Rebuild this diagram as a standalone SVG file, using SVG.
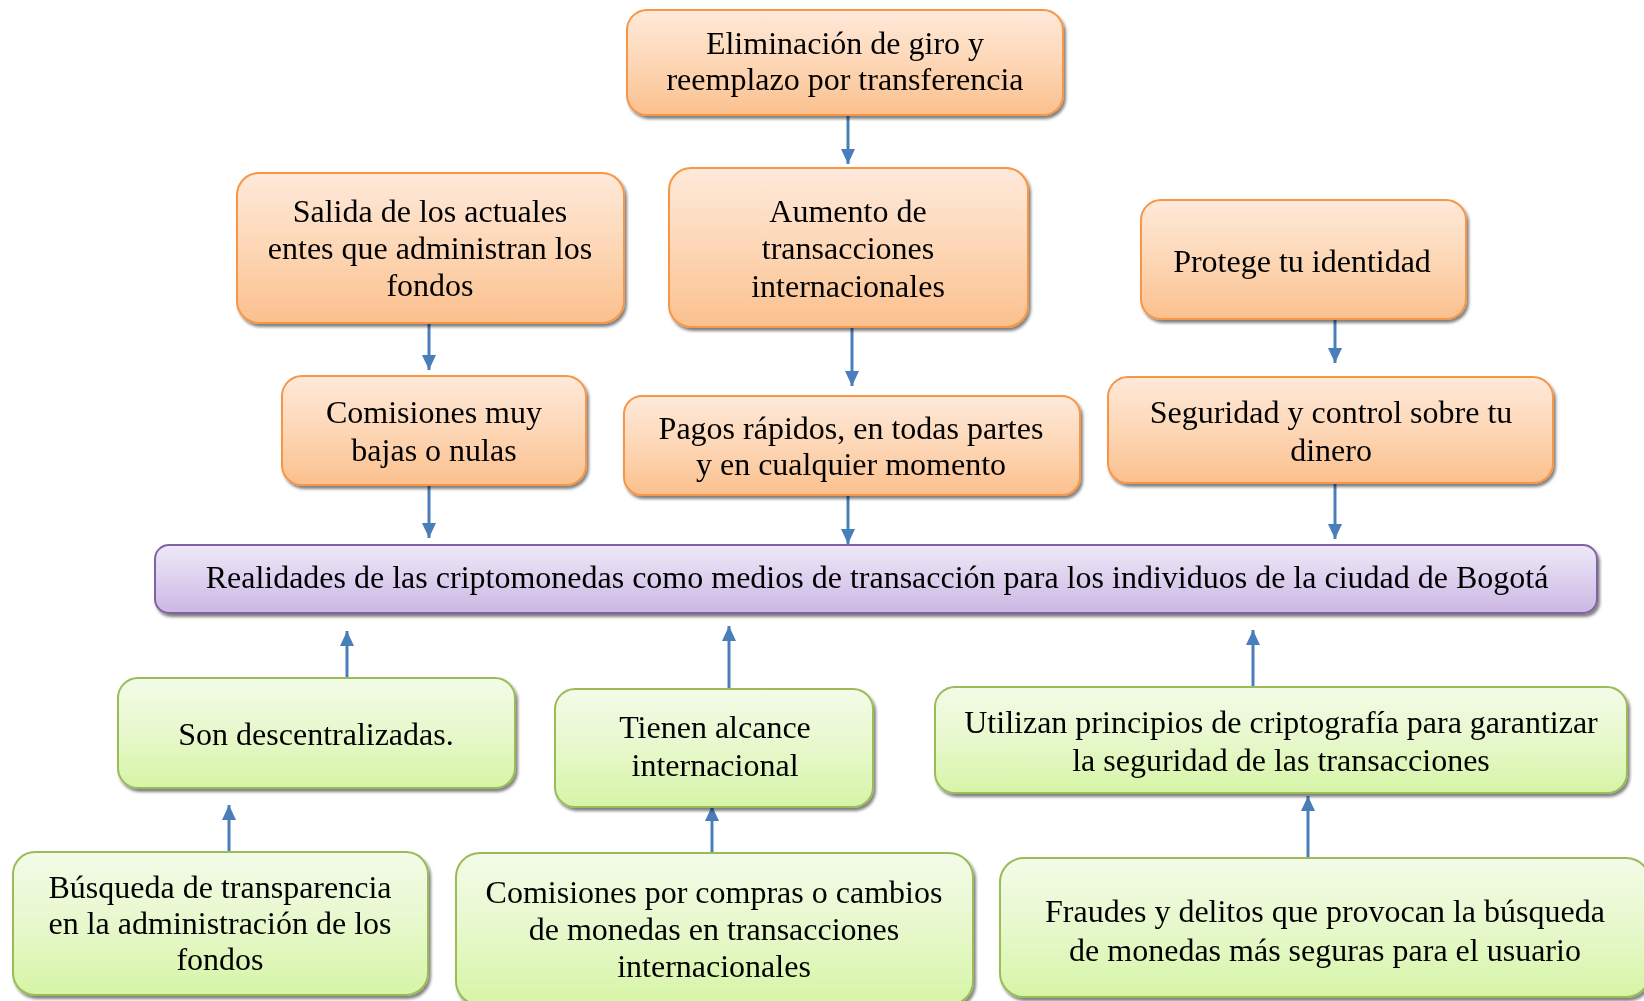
<svg xmlns="http://www.w3.org/2000/svg" width="1644" height="1001" viewBox="0 0 1644 1001">
<defs>
<linearGradient id="gOr" x1="0" y1="0" x2="0" y2="1"><stop offset="0" stop-color="#FEE9DA"/><stop offset="0.5" stop-color="#FDD7B6"/><stop offset="1" stop-color="#FBC08E"/></linearGradient>
<linearGradient id="gGr" x1="0" y1="0" x2="0" y2="1"><stop offset="0" stop-color="#F3FBE8"/><stop offset="0.5" stop-color="#E7F8CC"/><stop offset="1" stop-color="#D6F5A6"/></linearGradient>
<linearGradient id="gPu" x1="0" y1="0" x2="0" y2="1"><stop offset="0" stop-color="#EFE9F7"/><stop offset="0.5" stop-color="#DDD0EE"/><stop offset="1" stop-color="#CBB7E3"/></linearGradient>
<filter id="sh" x="-5%" y="-10%" width="110%" height="130%"><feGaussianBlur in="SourceAlpha" stdDeviation="1.5"/><feOffset dx="2" dy="3" result="o"/><feComponentTransfer in="o" result="s"><feFuncA type="linear" slope="0.5"/></feComponentTransfer><feMerge><feMergeNode in="s"/><feMergeNode in="SourceGraphic"/></feMerge></filter>
<marker id="ah" markerUnits="userSpaceOnUse" markerWidth="16" markerHeight="16" viewBox="0 0 16 16" refX="15" refY="8" orient="auto"><path d="M0,1 L15,8 L0,15 Z" fill="#4A7EBB"/></marker>
</defs>
<style>
.o{fill:url(#gOr);stroke:#F79646;stroke-width:2}
.g{fill:url(#gGr);stroke:#9BBB59;stroke-width:2}
.p{fill:url(#gPu);stroke:#8064A2;stroke-width:2}
text{font-family:"Liberation Serif","Times New Roman",serif;font-size:32px;fill:#000;text-anchor:middle}
.c line{stroke:#4A7EBB;stroke-width:3;marker-end:url(#ah)}
</style>
<rect width="1644" height="1001" fill="#FFFFFF"/>
<g id="connectors" class="c">
<line x1="848" y1="116" x2="848" y2="164"/>
<line x1="429" y1="324" x2="429" y2="370"/>
<line x1="852" y1="328" x2="852" y2="386"/>
<line x1="1335" y1="320" x2="1335" y2="363"/>
<line x1="429" y1="486" x2="429" y2="538"/>
<line x1="848" y1="496" x2="848" y2="544"/>
<line x1="1335" y1="484" x2="1335" y2="539"/>
<line x1="347" y1="677" x2="347" y2="631"/>
<line x1="729" y1="689" x2="729" y2="626"/>
<line x1="1253" y1="686" x2="1253" y2="630"/>
<line x1="229" y1="851" x2="229" y2="805"/>
<line x1="712" y1="852" x2="712" y2="806"/>
<line x1="1308" y1="857" x2="1308" y2="796"/>
</g>
<g id="n1" filter="url(#sh)"><rect class="o" x="627" y="10" width="436" height="105" rx="20"/><text x="845" y="54">Eliminación de giro y</text><text x="845" y="90">reemplazo por transferencia</text></g>
<g id="n2" filter="url(#sh)"><rect class="o" x="237" y="173" width="387" height="150" rx="22"/><text x="430" y="222">Salida de los actuales</text><text x="430" y="259">entes que administran los</text><text x="430" y="296">fondos</text></g>
<g id="n3" filter="url(#sh)"><rect class="o" x="669" y="168" width="359" height="159" rx="22"/><text x="848" y="222">Aumento de</text><text x="848" y="259">transacciones</text><text x="848" y="297">internacionales</text></g>
<g id="n4" filter="url(#sh)"><rect class="o" x="1141" y="200" width="325" height="119" rx="20"/><text x="1302" y="272">Protege tu identidad</text></g>
<g id="n5" filter="url(#sh)"><rect class="o" x="282" y="376" width="304" height="109" rx="20"/><text x="434" y="423">Comisiones muy</text><text x="434" y="461">bajas o nulas</text></g>
<g id="n6" filter="url(#sh)"><rect class="o" x="624" y="396" width="456" height="99" rx="18"/><text x="851" y="439">Pagos rápidos, en todas partes</text><text x="851" y="475">y en cualquier momento</text></g>
<g id="n7" filter="url(#sh)"><rect class="o" x="1108" y="377" width="445" height="106" rx="20"/><text x="1331" y="423">Seguridad y control sobre tu</text><text x="1331" y="461">dinero</text></g>
<g id="n8" filter="url(#sh)"><rect class="p" x="155" y="545" width="1442" height="68" rx="14"/><text x="877" y="588">Realidades de las criptomonedas como medios de transacción para los individuos de la ciudad de Bogotá</text></g>
<g id="n9" filter="url(#sh)"><rect class="g" x="118" y="678" width="397" height="110" rx="20"/><text x="316" y="745">Son descentralizadas.</text></g>
<g id="n10" filter="url(#sh)"><rect class="g" x="555" y="689" width="318" height="118" rx="20"/><text x="715" y="738">Tienen alcance</text><text x="715" y="776">internacional</text></g>
<g id="n11" filter="url(#sh)"><rect class="g" x="935" y="687" width="692" height="106" rx="20"/><text x="1281" y="733">Utilizan principios de criptografía para garantizar</text><text x="1281" y="771">la seguridad de las transacciones</text></g>
<g id="n12" filter="url(#sh)"><rect class="g" x="13" y="852" width="415" height="143" rx="22"/><text x="220" y="898">Búsqueda de transparencia</text><text x="220" y="934">en la administración de los</text><text x="220" y="970">fondos</text></g>
<g id="n13" filter="url(#sh)"><rect class="g" x="456" y="853" width="517" height="152" rx="24"/><text x="714" y="903">Comisiones por compras o cambios</text><text x="714" y="940">de monedas en transacciones</text><text x="714" y="977">internacionales</text></g>
<g id="n14" filter="url(#sh)"><rect class="g" x="1000" y="858" width="650" height="139" rx="24"/><text x="1325" y="922">Fraudes y delitos que provocan la búsqueda</text><text x="1325" y="961">de monedas más seguras para el usuario</text></g>
</svg>
